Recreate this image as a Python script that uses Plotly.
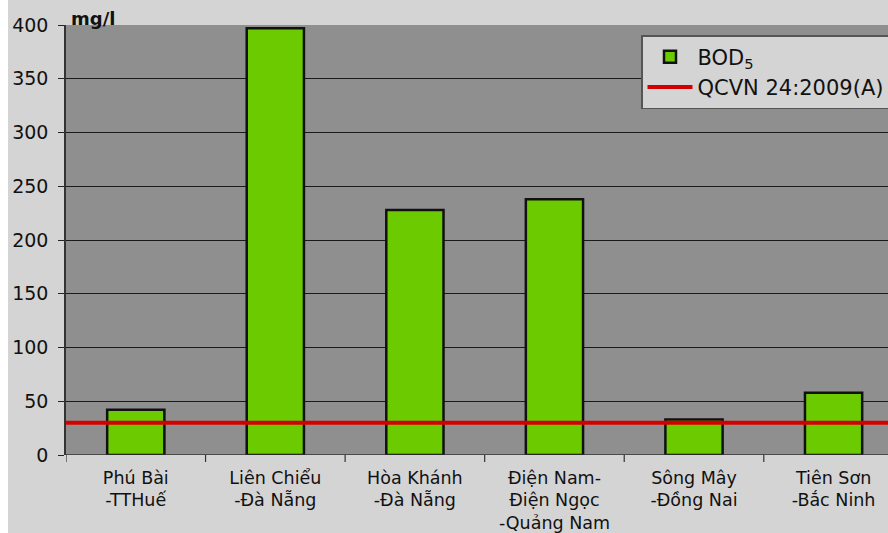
import plotly.graph_objects as go

categories = ["Phú Bài<br>-TTHuế", "Liên Chiểu<br>-Đà Nẵng", "Hòa Khánh<br>-Đà Nẵng",
              "Điện Nam-<br>Điện Ngọc<br>-Quảng Nam", "Sông Mây<br>-Đồng Nai", "Tiên Sơn<br>-Bắc Ninh"]
bod5 = [42, 397, 228, 238, 33, 58]
qcvn_limit = 30
y_ticks = [0, 50, 100, 150, 200, 250, 300, 350, 400]

FONT = "DejaVu Sans, Verdana, sans-serif"
BG = "#d4d4d4"

fig = go.Figure()
fig.add_trace(go.Bar(
    x=list(range(len(categories))), y=bod5, name="BOD<sub>5</sub>",
    marker=dict(color="#6ccb00", line=dict(color="#111111", width=2.5)),
    width=0.41,
))
fig.add_hline(y=qcvn_limit, line=dict(color="#d40000", width=4), layer="above",
              showlegend=True, name="QCVN 24:2009(A)")

L, T, B, W, H = 66, 25, 78, 888, 533
fig.update_layout(
    width=W, height=H,
    margin=dict(l=L, r=0, t=T, b=B, autoexpand=False),
    paper_bgcolor=BG, plot_bgcolor="#8f8f8f",
    font=dict(family=FONT, color="#111111"),
    showlegend=True,
    bargap=0.59,
    legend=dict(
        x=(641 - L) / (W - L), y=1 - (35 - T) / (H - T - B), xanchor="left", yanchor="top",
        bgcolor=BG, bordercolor="#555555", borderwidth=1.5,
        font=dict(size=21, family=FONT, color="#111111"),
        tracegroupgap=0, itemwidth=45,
    ),
    xaxis=dict(
        range=[-0.5, 5.39], tickmode="array",
        tickvals=list(range(len(categories))), ticktext=categories,
        ticks="", showgrid=False, zeroline=False, automargin=False,
        showline=False, ticklabelstandoff=10,
        tickfont=dict(size=17.5, family=FONT, color="#111111"),
    ),
    yaxis=dict(
        range=[0, 400], tickvals=y_ticks, ticks="outside", ticklen=6, tickcolor="#222222",
        showgrid=True, gridcolor="#1a1a1a", gridwidth=1.3,
        showline=True, linecolor="#333333", linewidth=1.5,
        zeroline=False, automargin=False,
        tickfont=dict(size=19, family=FONT, color="#111111"),
        ticklabelstandoff=6,
    ),
    shapes=[
        # white strips at top and left of the picture
        dict(type="rect", xref="paper", yref="paper", layer="below",
             x0=-L / (W - L), x1=(W) / (W - L), y0=1 + (T - 6) / (H - T - B), y1=1 + T / (H - T - B) + 0.01,
             fillcolor="white", line=dict(width=0)),
        dict(type="rect", xref="paper", yref="paper", layer="below",
             x0=-L / (W - L) - 0.01, x1=-(L - 8) / (W - L), y0=-B / (H - T - B) - 0.01, y1=1 + T / (H - T - B) + 0.01,
             fillcolor="white", line=dict(width=0)),
        # x-axis baseline
        dict(type="line", xref="paper", yref="y", x0=0, x1=1, y0=0, y1=0,
             line=dict(color="#333333", width=1.5), layer="above"),
    ],
    annotations=[
        dict(text="<b>mg/l</b>", xref="paper", yref="paper", x=(69 - L) / (W - L), y=1,
             xanchor="left", yanchor="bottom", showarrow=False, yshift=-6,
             font=dict(size=18, family=FONT, color="#111111")),
    ],
)

# category boundary ticks below x-axis
for i in range(len(categories) + 1):
    fig.add_shape(type="line", xref="x", yref="paper", x0=i - 0.5, x1=i - 0.5,
                  y0=0, y1=-7 / (H - T - B), line=dict(color="#333333", width=1.2), layer="above")

fig.write_html("out.html")
